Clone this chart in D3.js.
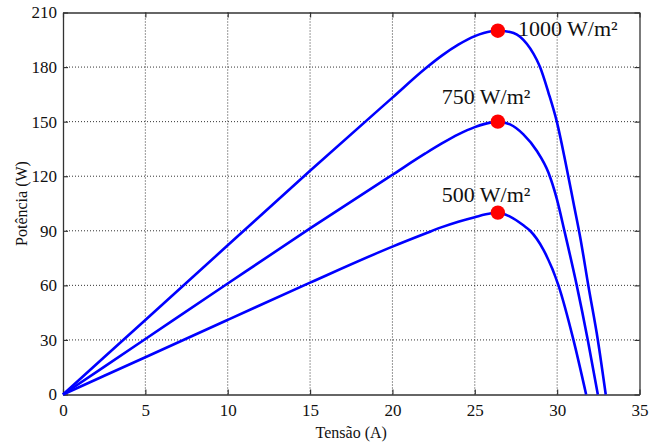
<!DOCTYPE html>
<html><head><meta charset="utf-8">
<script src="https://cdn.jsdelivr.net/npm/d3@7/dist/d3.min.js"></script>
<style>body{margin:0;background:#fff;}svg{display:block;}</style>
</head><body>
<script>
// Data (voltage, power)
const v1000 = [0,5,10,15,20,22,23,24,25,26,26.4,27.14,27.95,28.76,28.96,29.47,29.98,30.5,31.0,31.4,31.9,32.47,32.95];
const p1000 = [0,41,82,123,163.2,179.2,186.3,192.3,197,199.7,200,199.3,195,184,180,166,150,128,105,86.5,59.5,30,0];
const v750 = [0,5,10,15,20,22,23,24,25,26,26.4,27.14,27.95,28.76,29.47,29.98,30.44,31.19,31.86,32.47];
const p750 = [0,30.5,61,91.3,120.8,132.5,138,143,147,149.6,150,148.5,143,134,122,107.5,90,60,30,0];
const v500 = [0,5,10,15,20,22,23,24,25,26,26.4,27.14,27.95,28.36,29.17,30.08,30.99,31.76];
const p500 = [0,20.5,41,61.5,81.3,88.5,92,95,97.5,99.6,100,97.8,93,90,79.5,60,30,0];
const mppV = [26.4,26.4,26.4];
const mppP = [200,150,100];
const labels = ["1000 W/m²","750 W/m²","500 W/m²"];
const xTicks = [0,5,10,15,20,25,30,35];
const yTicks = [0,30,60,90,120,150,180,210];

const W = 659, H = 443;
const m = {l:63, r:659-639.5, t:12.5, b:443-394.5};
const svg = d3.select("body").append("svg").attr("width",W).attr("height",H);
const x = d3.scaleLinear().domain([0,35]).range([m.l, W-m.r]);
const y = d3.scaleLinear().domain([0,210]).range([H-m.b, m.t]);
const font = "'Liberation Serif','Times New Roman',serif";

// grid
const g = svg.append("g");
g.selectAll(".gx").data(xTicks.slice(1,-1)).enter().append("line")
 .attr("x1",d=>x(d)).attr("x2",d=>x(d)).attr("y1",y(0)).attr("y2",y(210))
 .attr("stroke","#333").attr("stroke-width",1).attr("stroke-dasharray","1,2");
g.selectAll(".gy").data(yTicks.slice(1,-1)).enter().append("line")
 .attr("y1",d=>y(d)).attr("y2",d=>y(d)).attr("x1",x(0)).attr("x2",x(35))
 .attr("stroke","#333").attr("stroke-width",1).attr("stroke-dasharray","1,2");

// axes (ticks inward)
const ax = (sel)=>sel.selectAll("text").attr("font-family",font).attr("font-size","17px").attr("fill","#111");
const xb = svg.append("g").attr("transform",`translate(0,${y(0)})`)
 .call(d3.axisBottom(x).tickValues(xTicks).tickSizeInner(-5).tickSizeOuter(0).tickPadding(9));
xb.call(ax);
const xt = svg.append("g").attr("transform",`translate(0,${y(210)})`)
 .call(d3.axisTop(x).tickValues(xTicks).tickSizeInner(-5).tickSizeOuter(0).tickFormat(""));
const yl = svg.append("g").attr("transform",`translate(${x(0)},0)`)
 .call(d3.axisLeft(y).tickValues(yTicks).tickSizeInner(-5).tickSizeOuter(0).tickPadding(6));
yl.call(ax);
const yr = svg.append("g").attr("transform",`translate(${x(35)},0)`)
 .call(d3.axisRight(y).tickValues(yTicks).tickSizeInner(-5).tickSizeOuter(0).tickFormat(""));
[xb,xt,yl,yr].forEach(a=>{a.select(".domain").attr("stroke","#333").attr("stroke-width",1.3);
 a.selectAll(".tick line").attr("stroke","#333").attr("stroke-width",1.2);});

// curves
const line = d3.line().x(d=>x(d[0])).y(d=>y(d[1])).curve(d3.curveMonotoneX);
[[v1000,p1000],[v750,p750],[v500,p500]].forEach(([vs,ps])=>{
  svg.append("path").datum(vs.map((v,i)=>[v,ps[i]])).attr("d",line)
   .attr("fill","none").attr("stroke","#0000ff").attr("stroke-width",2.6).attr("stroke-linejoin","round");
});

// markers
svg.selectAll(".mpp").data(mppV).enter().append("circle")
 .attr("cx",d=>x(d)).attr("cy",(d,i)=>y(mppP[i])).attr("r",7.2).attr("fill","#ff0000");

// labels
const lp = [[518,36],[441.7,104],[441.7,202]];
svg.selectAll(".lab").data(labels).enter().append("text")
 .attr("x",(d,i)=>lp[i][0]).attr("y",(d,i)=>lp[i][1]).text(d=>d)
 .attr("font-family",font).attr("font-size","22px").attr("fill","#111");

// axis titles
svg.append("text").attr("x",(x(0)+x(35))/2).attr("y",438).attr("text-anchor","middle")
 .attr("font-family",font).attr("font-size","16px").attr("fill","#111").text("Tensão (A)");
svg.append("text").attr("transform",`translate(27,${(y(0)+y(210))/2}) rotate(-90)`).attr("text-anchor","middle")
 .attr("font-family",font).attr("font-size","16px").attr("fill","#111").text("Potência (W)");
</script>
</body></html>
